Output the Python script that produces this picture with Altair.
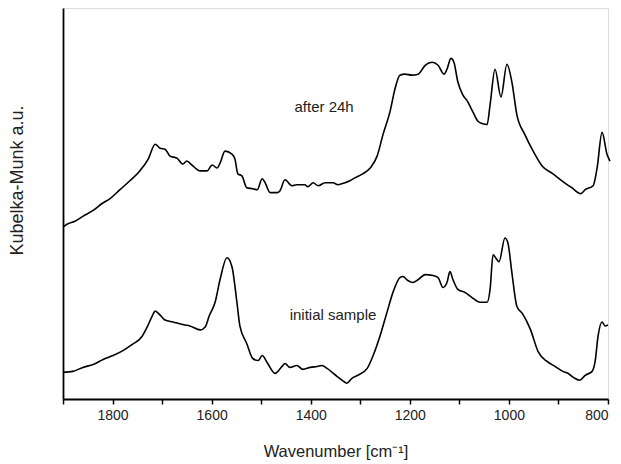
import altair as alt
import pandas as pd

# after 24h spectrum (wavenumber cm-1, Kubelka-Munk a.u.)
after_wn = [1900, 1892, 1876, 1860, 1839, 1821, 1805, 1785, 1765, 1745, 1728, 1714, 1704, 1694,
            1684, 1670, 1658, 1650, 1640, 1623, 1609, 1599, 1589, 1583, 1573, 1559, 1553, 1547,
            1539, 1529, 1517, 1508, 1498, 1492, 1482, 1468, 1462, 1452, 1438, 1428, 1412, 1406,
            1395, 1385, 1371, 1355, 1345, 1331, 1321, 1311, 1295, 1280, 1266, 1254, 1240, 1230,
            1220, 1210, 1196, 1183, 1169, 1155, 1143, 1131, 1125, 1117, 1111, 1103, 1093, 1083,
            1073, 1062, 1054, 1044, 1038, 1028, 1016, 1004, 994, 984, 968, 951, 933, 911, 893,
            873, 855, 846, 830, 822, 812, 802, 796]
after_km = [174, 177, 180, 185, 191, 198, 203, 212, 221, 231, 243, 258, 254, 253,
            246, 244, 238, 241, 237, 231, 231, 237, 234, 239, 251, 248, 243, 228,
            226, 214, 213, 212, 223, 219, 209, 209, 211, 222, 216, 217, 217, 215,
            219, 216, 219, 219, 217, 219, 221, 224, 228, 234, 246, 268, 291, 314,
            328, 329, 328, 329, 338, 341, 338, 329, 334, 345, 341, 321, 308, 301,
            291, 281, 279, 278, 298, 334, 306, 339, 321, 288, 268, 251, 236, 228, 221,
            214, 208, 212, 216, 234, 270, 248, 241]

# initial sample spectrum
init_wn = [1900, 1880, 1860, 1839, 1819, 1799, 1779, 1761, 1741, 1730, 1720, 1714, 1704, 1694,
           1678, 1654, 1644, 1623, 1613, 1605, 1593, 1583, 1569, 1559, 1549, 1543, 1529, 1517,
           1506, 1498, 1488, 1472, 1458, 1452, 1442, 1428, 1416, 1401, 1387, 1377, 1367, 1347,
           1331, 1327, 1317, 1305, 1286, 1274, 1260, 1246, 1234, 1220, 1214, 1204, 1194, 1183,
           1169, 1153, 1143, 1133, 1125, 1119, 1113, 1103, 1089, 1075, 1058, 1044, 1038, 1032,
           1024, 1020, 1008, 1002, 994, 984, 972, 957, 941, 923, 907, 891, 881, 867, 857, 846,
           832, 826, 820, 812, 806, 800]
init_km = [27, 28, 32, 35, 40, 44, 49, 55, 63, 73, 84, 89, 85, 80,
           78, 75, 74, 70, 73, 84, 98, 121, 143, 134, 98, 74, 56, 41,
           39, 44, 37, 26, 33, 36, 32, 34, 30, 32, 33, 34, 31, 23,
           17, 16, 21, 24, 31, 44, 64, 88, 108, 123, 124, 120, 118, 121,
           126, 125, 123, 113, 118, 129, 121, 111, 108, 103, 98, 98, 111, 146,
           141, 139, 163, 158, 128, 94, 86, 71, 48, 38, 33, 28, 26, 21, 19, 24,
           28, 38, 64, 78, 74, 75]

label_text = ["after 24h", "initial sample"]
label_wn = [1373, 1355]
label_km = [296, 85]

tick_values = [1900, 1800, 1700, 1600, 1500, 1400, 1300, 1200, 1100, 1000, 900, 800]

df = pd.concat([
    pd.DataFrame({"wn": after_wn, "km": after_km, "series": "after 24h"}),
    pd.DataFrame({"wn": init_wn, "km": init_km, "series": "initial sample"}),
])
labels = pd.DataFrame({"text": label_text, "wn": label_wn, "km": label_km})

FONT = "Liberation Sans"

x = alt.X("wn:Q",
          scale=alt.Scale(domain=[800, 1900], reverse=True, nice=False, zero=False),
          axis=alt.Axis(title="Wavenumber [cm⁻¹]", values=tick_values,
                        labelExpr="datum.value % 200 == 0 ? datum.label : ''",
                        format="d", grid=False, domainColor="black", domainWidth=1.8,
                        tickColor="black", tickWidth=1.5, tickSize=5,
                        labelFont=FONT, labelFontSize=14, labelColor="#222",
                        labelPadding=4, labelFlush=True,
                        titleFont=FONT, titleFontSize=16.5, titleFontWeight="normal",
                        titleColor="#222", titlePadding=21))
y = alt.Y("km:Q",
          scale=alt.Scale(domain=[0, 396], nice=False, zero=False),
          axis=alt.Axis(title="Kubelka-Munk a.u.", labels=False, ticks=False, grid=False,
                        domainColor="black", domainWidth=1.8,
                        titleFont=FONT, titleFontSize=18, titleFontWeight="normal",
                        titleColor="#222", titleX=-41, titleY=172,
                        titleBaseline="alphabetic"))

lines = alt.Chart(df).mark_line(color="black", strokeWidth=1.6, interpolate="monotone").encode(
    x=x, y=y, detail="series:N")

texts = alt.Chart(labels).mark_text(font=FONT, fontSize=15, color="#222", align="center",
                                    baseline="middle").encode(
    x=alt.X("wn:Q"), y=alt.Y("km:Q"), text="text:N")

chart = (lines + texts).properties(
    width=545, height=391,
    autosize=alt.AutoSizeParams(type="none"),
    padding={"left": 55, "top": 0, "right": 5, "bottom": 61},
).configure_view(stroke=None).configure(background="white")

chart.save("out.html", embed_options={"renderer": "svg", "actions": False})
